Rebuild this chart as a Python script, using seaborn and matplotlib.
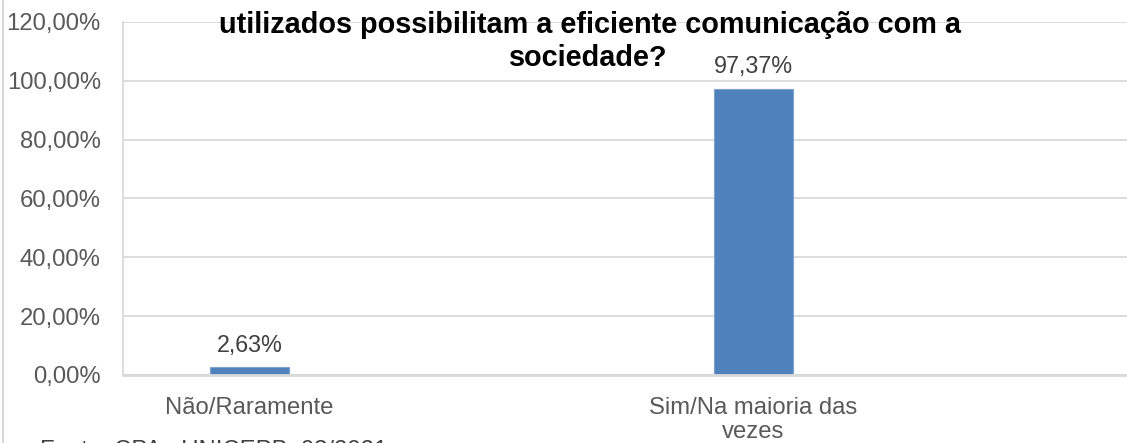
import matplotlib
matplotlib.use("Agg")
import matplotlib.pyplot as plt
import seaborn as sns
import pandas as pd
from matplotlib.lines import Line2D

categorias = ["Não/Raramente", "Sim/Na maioria das\nvezes"]
valores = [2.63, 97.37]
rotulos = ["2,63%", "97,37%"]
yticks = [0, 20, 40, 60, 80, 100, 120]
ytick_labels = ["0,00%", "20,00%", "40,00%", "60,00%", "80,00%", "100,00%", "120,00%"]
titulo_l1 = "utilizados possibilitam a eficiente comunicação com a"
titulo_l2 = "sociedade?"
fonte = "Fonte: CPA - UNICEPB, 03/2021"

sns.set_theme(style="white")
plt.rcParams['font.family'] = ['Liberation Sans', 'DejaVu Sans']

df = pd.DataFrame({"categoria": categorias, "valor": valores})

W, H = 1127, 443
fig = plt.figure(figsize=(W / 100, H / 100), dpi=100)
ax = fig.add_axes([123 / W, 1 - 375 / H, 1 - 123 / W, (375 - 22) / H])

sns.barplot(data=df, x="categoria", y="valor", color="#4F81BD", width=0.157,
            saturation=1, ax=ax, edgecolor="#7FA3D0", linewidth=0.8)

ax.set_xlim(-0.251, 1.741)
ax.set_ylim(0, 120)
ax.set_yticks(yticks)
ax.set_yticklabels(ytick_labels, color="#595959", fontsize=17.2)
ax.tick_params(axis="y", length=0, pad=16)
ax.tick_params(axis="x", length=0, pad=16, labelsize=17.2, labelcolor="#595959")
for lbl in ax.get_xticklabels():
    lbl.set_linespacing(1.1)
ax.set_xlabel("")
ax.set_ylabel("")
ax.grid(axis="y", color="#D9D9D9", linewidth=1.3)
ax.set_axisbelow(True)

for side in ["top", "right"]:
    ax.spines[side].set_visible(False)
ax.spines["left"].set_color("#D9D9D9")
ax.spines["left"].set_linewidth(1.3)
ax.spines["bottom"].set_color("#D9D9D9")
ax.spines["bottom"].set_linewidth(2)

for i, (v, r) in enumerate(zip(valores, rotulos)):
    ax.annotate(r, (i, v), xytext=(0, 11), textcoords="offset points",
                ha="center", va="baseline", fontsize=16.8, color="#404040")

fig.text(590 / W, 1 - 33 / H, titulo_l1, ha="center", va="baseline", fontsize=20.8,
         fontweight="bold", color="black")
fig.text(588 / W, 1 - 66 / H, titulo_l2, ha="center", va="baseline", fontsize=20.8,
         fontweight="bold", color="black")

# legenda da fonte, cortada na borda inferior como no original
fig.text(40 / W, 1 - 440 / H, fonte, ha="left", va="top", fontsize=17.2, color="#404040")

# moldura esquerda
fig.add_artist(Line2D([3 / W, 3 / W], [0, 1], color="#D9D9D9", linewidth=1.5,
                      transform=fig.transFigure))

fig.savefig("out.png", dpi=100)
